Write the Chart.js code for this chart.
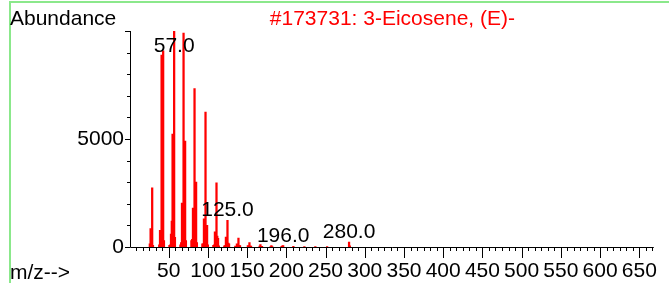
<!DOCTYPE html>
<html>
<head>
<meta charset="utf-8">
<script src="https://cdn.jsdelivr.net/npm/chart.js@4.4.0/dist/chart.umd.min.js"></script>
<style>
  html, body { margin: 0; padding: 0; background: #fff; }
  #wrap { position: relative; width: 669px; height: 283px; overflow: hidden; }
  #frame { position: absolute; left: 9px; top: 1px; width: 700px; height: 300px;
           border-left: 2px solid #8be88b; border-top: 2px solid #8be88b; }
  canvas { position: absolute; left: 0; top: 0; }
</style>
</head>
<body>
<div id="wrap">
  <div id="frame"></div>
  <canvas id="ms" width="669" height="283"></canvas>
</div>
<script>
// spectrum of 3-Eicosene, (E)-  (m/z vs abundance)
const mzValues = [
  26, 27, 28, 29, 30,
  38, 39, 40, 41, 42, 43, 44,
  51, 52, 53, 54, 55, 56, 57, 58,
  65, 66, 67, 68, 69, 70, 71, 72,
  79, 80, 81, 82, 83, 84, 85, 86,
  93, 94, 95, 96, 97, 98, 99, 100,
  107, 108, 109, 110, 111, 112, 113, 114,
  121, 122, 123, 124, 125, 126, 127,
  135, 136, 137, 138, 139, 140, 141,
  151, 152, 153, 154, 155,
  166, 167, 168, 169,
  180, 181, 182,
  194, 195, 196,
  209, 223, 237, 252, 280, 281
];
const abundance = [
  150, 850, 300, 2740, 80,
  100, 770, 250, 8880, 1700, 9080, 300,
  80, 100, 600, 1200, 5230, 1100, 9999, 450,
  100, 200, 2030, 1000, 9900, 1600, 4900, 300,
  300, 350, 1800, 900, 7340, 1000, 3000, 200,
  150, 150, 1300, 700, 6250, 900, 1000, 100,
  80, 100, 700, 350, 2970, 500, 400, 50,
  50, 60, 460, 200, 1230, 180, 150,
  40, 30, 150, 80, 415, 80, 60,
  60, 50, 200, 40, 40,
  40, 110, 30, 30,
  20, 65, 20,
  30, 50, 60,
  30, 20, 15, 25, 230, 50
];
const labeledPeaks = [57, 125, 196, 280];
const xTickValues = [50, 100, 150, 200, 250, 300, 350, 400, 450, 500, 550, 600, 650];
const yTickValues = [0, 5000];

const title = '#173731: 3-Eicosene, (E)-';
const yTitle = 'Abundance';
const xTitle = 'm/z-->';

const FONT = '"Liberation Sans", Arial, sans-serif';

const decor = {
  id: 'decor',
  afterDraw(chart) {
    const { ctx, chartArea: a, scales: { x, y } } = chart;
    ctx.save();
    ctx.strokeStyle = '#000';
    ctx.lineWidth = 1;
    ctx.beginPath();
    // axis lines
    ctx.moveTo(a.left - 0.5, a.top);
    ctx.lineTo(a.left - 0.5, a.bottom + 0.5);
    ctx.lineTo(a.right, a.bottom + 0.5);
    // x ticks: major every 50, minor in between
    const step = 50 / 6;
    for (let k = 1; k * step <= x.max; k++) {
      const v = k * step;
      const px = Math.round(x.getPixelForValue(v)) + 0.5;
      const len = (k % 6 === 0) ? 11 : 4;
      ctx.moveTo(px, a.bottom);
      ctx.lineTo(px, a.bottom + len);
    }
    // y ticks: minor every 1000
    for (let v = 0; v <= y.max; v += 1000) {
      const py = Math.round(y.getPixelForValue(v)) + 0.5;
      const len = (v % 5000 === 0) ? 5 : 3;
      ctx.moveTo(a.left - 1, py);
      ctx.lineTo(a.left - 1 - len, py);
    }
    ctx.stroke();

    // peak labels
    ctx.fillStyle = '#000';
    ctx.font = '21px ' + FONT;
    ctx.textAlign = 'center';
    ctx.textBaseline = 'alphabetic';
    labeledPeaks.forEach(m => {
      const i = mzValues.indexOf(m);
      const px = x.getPixelForValue(m);
      const top = y.getPixelForValue(abundance[i]);
      const base = Math.max(top - 4, a.top + 21);
      ctx.fillText(m.toFixed(1), px, base);
    });

    // titles
    ctx.textAlign = 'left';
    ctx.fillText(yTitle, 10, 25);
    ctx.fillText(xTitle, 10, 279);
    ctx.fillStyle = '#ff0000';
    ctx.textAlign = 'center';
    ctx.fillText(title, (a.left + a.right) / 2, 25);
    ctx.restore();
  }
};

new Chart(document.getElementById('ms'), {
  type: 'bar',
  data: {
    datasets: [{
      data: mzValues.map((m, i) => ({ x: m, y: abundance[i] })),
      backgroundColor: '#ff0000',
      borderWidth: 0,
      barThickness: 1.6,
      grouped: false
    }]
  },
  options: {
    responsive: false,
    animation: false,
    devicePixelRatio: 1,
    layout: { padding: { left: 0, top: 31, right: 7, bottom: 0 } },
    plugins: { legend: { display: false }, tooltip: { enabled: false } },
    scales: {
      x: {
        type: 'linear',
        min: 2,
        max: 668.5,
        offset: false,
        grid: { display: false, drawTicks: false },
        border: { display: false },
        afterBuildTicks: s => { s.ticks = xTickValues.map(v => ({ value: v })); },
        afterFit: s => { s.height = 36; },
        ticks: {
          autoSkip: false,
          maxRotation: 0,
          padding: 12,
          color: '#000',
          font: { family: FONT, size: 21 },
          callback: v => String(v)
        }
      },
      y: {
        min: 0,
        max: 10000,
        grid: { display: false, drawTicks: false },
        border: { display: false },
        afterBuildTicks: s => { s.ticks = yTickValues.map(v => ({ value: v })); },
        afterFit: s => { s.width = 131; },
        ticks: {
          padding: 7,
          color: '#000',
          font: { family: FONT, size: 21 },
          callback: v => String(v)
        }
      }
    }
  },
  plugins: [decor]
});
</script>
</body>
</html>
